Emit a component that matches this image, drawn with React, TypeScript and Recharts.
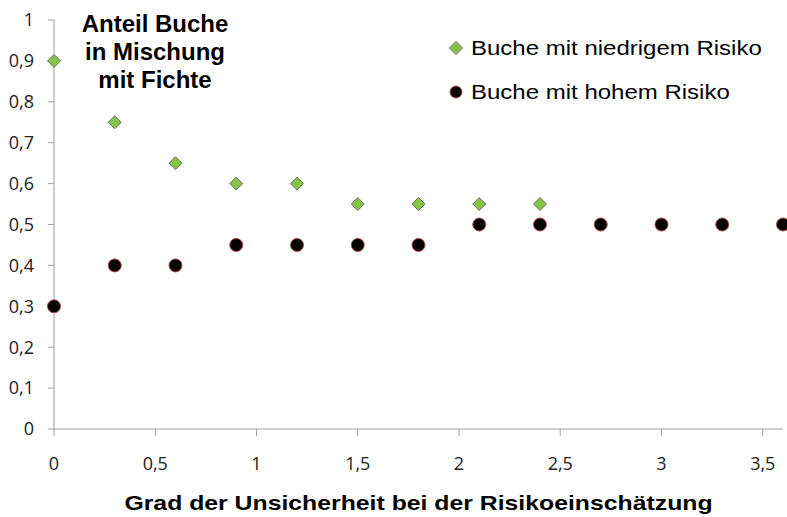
import { CartesianGrid, Label, Legend, Scatter, ScatterChart, XAxis, YAxis } from "recharts"

// Grad der Unsicherheit (x) und Anteil Buche (y)
const xNiedrig = [0, 0.3, 0.6, 0.9, 1.2, 1.5, 1.8, 2.1, 2.4]
const yNiedrig = [0.9, 0.75, 0.65, 0.6, 0.6, 0.55, 0.55, 0.55, 0.55]

const xHoch = [0, 0.3, 0.6, 0.9, 1.2, 1.5, 1.8, 2.1, 2.4, 2.7, 3.0, 3.3, 3.6]
const yHoch = [0.3, 0.4, 0.4, 0.45, 0.45, 0.45, 0.45, 0.5, 0.5, 0.5, 0.5, 0.5, 0.5]

const xTicks = [0, 0.5, 1, 1.5, 2, 2.5, 3, 3.5]
const yTicks = [0, 0.1, 0.2, 0.3, 0.4, 0.5, 0.6, 0.7, 0.8, 0.9, 1]

const niedrig = xNiedrig.map((x, i) => ({ x, y: yNiedrig[i] }))
const hoch = xHoch.map((x, i) => ({ x, y: yHoch[i] }))

const GREEN = "#84c447"
const comma = (v: number) => String(v).replace(".", ",")

const Diamond = (props: any) => {
  const { cx, cy } = props
  const r = 6.5
  return (
    <polygon
      points={`${cx},${cy - r} ${cx + r},${cy} ${cx},${cy + r} ${cx - r},${cy}`}
      fill={GREEN}
      stroke="#707070"
      strokeWidth={1}
    />
  )
}

const Dot = (props: any) => {
  const { cx, cy } = props
  return <circle cx={cx} cy={cy} r={6.5} fill="#000" stroke="#b04848" strokeWidth={1} />
}

const legendText = {
  display: "inline-block",
  fontFamily: "'Liberation Sans', Arial, sans-serif",
  fontSize: 20,
  color: "#000",
  transform: "scaleX(1.2)",
  transformOrigin: "left center",
}

const LegendBox = () => (
  <div>
    <div style={{ height: 44, display: "flex", alignItems: "center" }}>
      <svg width={16} height={16} style={{ marginRight: 7 }}>
        <polygon points="8,1.5 14.5,8 8,14.5 1.5,8" fill={GREEN} stroke="#707070" />
      </svg>
      <span style={legendText}>Buche mit niedrigem Risiko</span>
    </div>
    <div style={{ height: 44, display: "flex", alignItems: "center" }}>
      <svg width={16} height={16} style={{ marginRight: 7 }}>
        <circle cx={8} cy={8} r={6} fill="#000" stroke="#b04848" />
      </svg>
      <span style={legendText}>Buche mit hohem Risiko</span>
    </div>
  </div>
)

export default function App() {
  return (
    <div style={{ position: "absolute", left: 0, top: 0, width: 787, height: 517, background: "#fff" }}>
      <ScatterChart width={787} height={517} margin={{ top: 20, right: 4, bottom: 0, left: 0 }}>
        <CartesianGrid stroke="none" />
        <XAxis
          type="number"
          dataKey="x"
          domain={[0, 3.6]}
          ticks={xTicks}
          tickFormatter={comma}
          height={88}
          stroke="#a0a0a0"
          tickSize={7}
          tickMargin={21}
          tick={{ fill: "#222", fontSize: 18, fontFamily: "'Open Sans', sans-serif" }}
        >
          <Label
            value="Grad der Unsicherheit bei der Risikoeinschätzung"
            position="insideBottom"
            offset={7}
            style={{
              fill: "#000",
              fontSize: 20,
              fontWeight: "bold",
              fontFamily: "'Liberation Sans', Arial, sans-serif",
              transform: "scaleX(1.24)",
              transformBox: "fill-box",
              transformOrigin: "center",
            }}
          />
        </XAxis>
        <YAxis
          type="number"
          dataKey="y"
          domain={[0, 1]}
          ticks={yTicks}
          tickFormatter={comma}
          width={54}
          stroke="#a0a0a0"
          tickSize={6}
          tickMargin={14}
          tick={{ fill: "#222", fontSize: 18, fontFamily: "'Open Sans', sans-serif" }}
        />
        <Legend
          layout="vertical"
          align="center"
          verticalAlign="middle"
          content={LegendBox}
          wrapperStyle={{ top: 26, left: 448, width: 330 }}
        />
        <Scatter name="Buche mit niedrigem Risiko" data={niedrig} shape={Diamond} isAnimationActive={false} />
        <Scatter name="Buche mit hohem Risiko" data={hoch} shape={Dot} isAnimationActive={false} />
      </ScatterChart>
      <div
        style={{
          position: "absolute",
          left: 55,
          top: 10,
          width: 200,
          textAlign: "center",
          fontFamily: "'Liberation Sans', Arial, sans-serif",
          fontWeight: "bold",
          fontSize: 24,
          lineHeight: "28px",
          color: "#000",
        }}
      >
        Anteil Buche
        <br />
        in Mischung
        <br />
        mit Fichte
      </div>
    </div>
  )
}
